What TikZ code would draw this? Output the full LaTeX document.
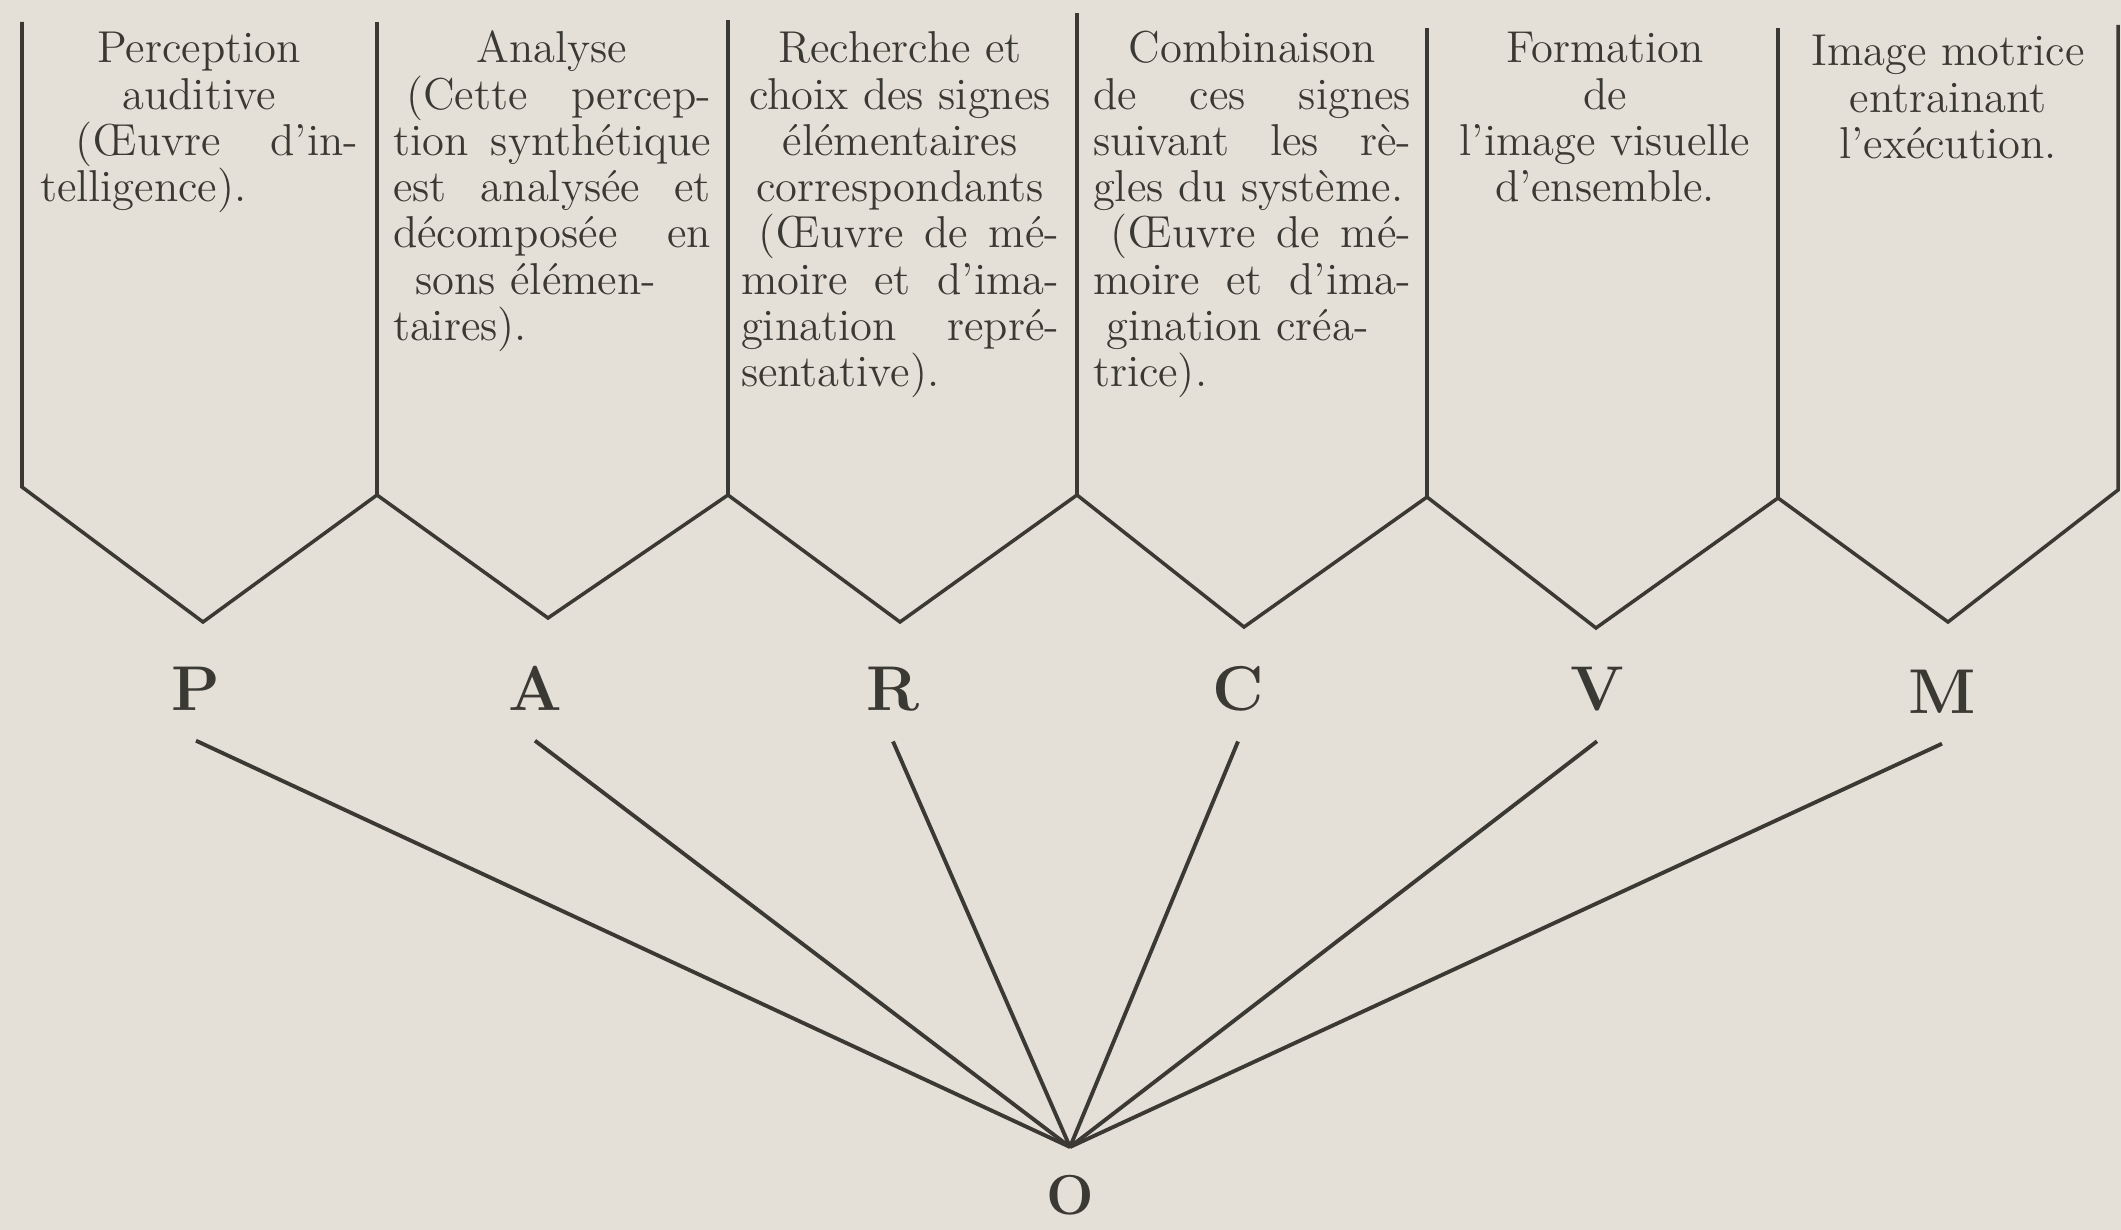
\documentclass[tikz,border=0pt]{standalone}
\usetikzlibrary{positioning}
\definecolor{paper}{HTML}{E4E0D7}
\definecolor{ink}{HTML}{3B3934}
\hbadness=10000
\hfuzz=20pt

\begin{document}
\begin{tikzpicture}[
        col/.style={anchor=base,inner sep=0pt,text width=3.18cm,align=justify,
          text=ink,font={\fontsize{12.7}{13.15}\selectfont}},
        letter/.style={anchor=base,inner sep=3mm,text=ink,
          font={\bfseries\fontsize{18}{18}\selectfont}},
        rule/.style={draw=ink,line width=1pt},
        ray/.style={draw=ink,line width=1.1pt}
      ]
        \fill[paper] (0,0) rectangle (21.21,-12.30);
        \useasboundingbox (0,0) rectangle (21.21,-12.30);
        % columns and chevrons
        \draw[rule] (0.22,-0.22) -- (0.22,-4.87) -- (2.03,-6.22) -- (3.77,-4.95)
          -- (5.48,-6.18) -- (7.28,-4.95) -- (9.00,-6.22) -- (10.77,-4.95)
          -- (12.44,-6.27) -- (14.27,-4.97) -- (15.96,-6.28) -- (17.78,-4.98)
          -- (19.48,-6.22) -- (21.18,-4.90) -- (21.18,-0.25);
        \draw[rule] (3.77,-0.22) -- (3.77,-4.95);
        \draw[rule] (7.28,-0.20) -- (7.28,-4.95);
        \draw[rule] (10.77,-0.13) -- (10.77,-4.95);
        \draw[rule] (14.27,-0.28) -- (14.27,-4.97);
        \draw[rule] (17.78,-0.28) -- (17.78,-4.98);

        \node[col] (perc) at (1.99,-0.63) {{\centering Perception\\auditive\par}
          \hspace*{0.8em}(Œuvre~d’in-\linebreak telligence).};
        \node[col] (anal) at (5.52,-0.63) {{\centering Analyse\par}
          \hspace*{0.3em}(Cette~percep-\linebreak tion~synthétique\linebreak
          est~analysée~et\linebreak décomposée~en\linebreak
          \hspace*{0.5em}sons~élémen-\hspace*{0pt plus 1fil}\linebreak taires).};
        \node[col] (rech) at (9.00,-0.63) {{\centering Recherche et\\choix des signes\\
          élémentaires\\correspondants\par}
          \hspace*{0.4em}(Œuvre~de~mé-\linebreak moire~et~d’ima-\linebreak
          gination~repré-\linebreak sentative).};
        \node[col] (comb) at (12.52,-0.63) {{\centering Combinaison\par}
          de~ces~signes\linebreak suivant~les~rè-\linebreak gles~du~système.\par
          \hspace*{0.4em}(Œuvre~de~mé-\linebreak moire~et~d’ima-\linebreak
          \hspace*{0.3em}gination~créa-\hspace*{0pt plus 1fil}\linebreak trice).};
        \node[col] (form) at (16.05,-0.63) {{\centering Formation\\de\\
          l’image visuelle\\d’ensemble.\par}};
        \node[col] (motr) at (19.48,-0.66) {{\centering Image motrice\\entrainant\\
          l’exécution.\par}};

        \node[letter] (P) at (1.96,-7.10) {P};
        \node[letter] (A) at (5.35,-7.10) {A};
        \node[letter] (R) at (8.93,-7.10) {R};
        \node[letter] (C) at (12.38,-7.10) {C};
        \node[letter] (V) at (15.97,-7.10) {V};
        \node[letter] (M) at (19.42,-7.13) {M};
        \coordinate (hub) at (10.70,-11.47);
        \node[letter,anchor=north,inner sep=0pt,below=0.28cm of hub,
          font={\bfseries\fontsize{16}{16}\selectfont}] (O) {O};

        \draw[ray] (P.south) -- (hub);
        \draw[ray] (A.south) -- (hub);
        \draw[ray] (R.south) -- (hub);
        \draw[ray] (C.south) -- (hub);
        \draw[ray] (V.south) -- (hub);
        \draw[ray] (M.south) -- (hub);
      \end{tikzpicture}
\end{document}
